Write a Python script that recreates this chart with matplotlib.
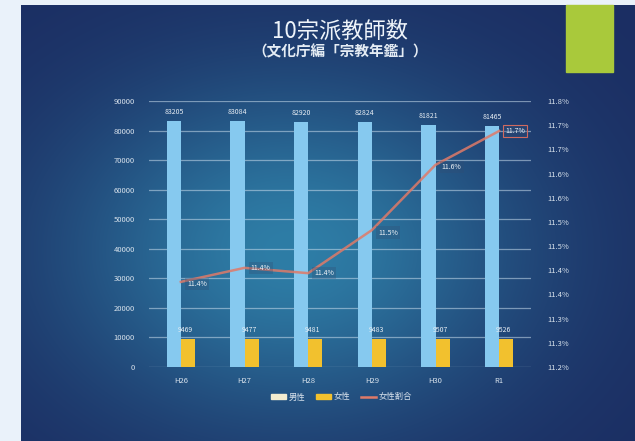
import numpy as np
import matplotlib
matplotlib.use("Agg")
import matplotlib.pyplot as plt
from matplotlib.lines import Line2D
from matplotlib.patches import Patch, Rectangle

plt.rcParams['font.family'] = ['Noto Sans CJK JP', 'DejaVu Sans']

# 10宗派 教師数（文化庁編「宗教年鑑」）
years = ['H26', 'H27', 'H28', 'H29', 'H30', 'R1']
male = [83205, 83084, 82920, 82824, 81821, 81465]
female = [9469, 9477, 9481, 9483, 9507, 9526]
female_ratio = [11.376, 11.405, 11.394, 11.483, 11.618, 11.688]  # %

left_ticks = np.arange(0, 90001, 10000)
right_ticks = np.arange(11.20, 11.751, 0.05)

W, H = 635, 441
fig = plt.figure(figsize=(W / 100, H / 100), dpi=100)

# slide background: navy with a soft teal glow
bg = fig.add_axes([0, 0, 1, 1], zorder=-5)
yy, xx = np.mgrid[0:H, 0:W]
glow = np.exp(-(((xx - 290) / 230.0) ** 2 + ((yy - 250) / 170.0) ** 2))
dark = np.array([0x1b, 0x2d, 0x62]) / 255
light = np.array([0x2e, 0x7d, 0xa6]) / 255
img = dark[None, None, :] * (1 - glow[..., None]) + light[None, None, :] * glow[..., None]
img[:5, :, :] = np.array([0xea, 0xf2, 0xfa]) / 255
img[:, :21, :] = np.array([0xea, 0xf2, 0xfa]) / 255
bg.imshow(img, aspect='auto', extent=(0, W, H, 0))
bg.add_patch(Rectangle((566, 5), 47, 67, color='#a9c93b'))
bg.set_xlim(0, W)
bg.set_ylim(H, 0)
bg.axis('off')

fig.text(0.535, 0.930, '10宗派教師数', color='#eef4fa', fontsize=16,
         ha='center', va='center')
fig.text(0.535, 0.884, '（文化庁編「宗教年鑑」）', color='#e4ecf4', fontsize=10.5,
         ha='center', va='center', fontweight='bold')

ax = fig.add_axes([149 / W, 1 - 367 / H, 382 / W, 266 / H])
ax.set_facecolor('none')
x = np.arange(len(years))
bw = 0.22

bars_m = ax.bar(x - bw / 2, male, bw, color='#86c9ef', zorder=3)
bars_f = ax.bar(x + bw / 2, female, bw, color='#f2c12e', zorder=3)

for xi, v in zip(x, male):
    ax.text(xi - bw / 2, v + 1800, str(v), color='#e8eef4', fontsize=5,
            ha='center', va='bottom', zorder=5)
for xi, v in zip(x, female):
    ax.text(xi + bw / 2 - 0.04, v + 1800, str(v), color='#e8eef4', fontsize=5,
            ha='center', va='bottom', zorder=5)

ax.set_xlim(-0.5, len(years) - 0.5)
ax.set_ylim(0, 90000)
ax.set_yticks(left_ticks)
ax.set_yticklabels([str(t) for t in left_ticks])
ax.set_xticks(x)
ax.set_xticklabels(years)
ax.grid(axis='y', color='#c8dcec', linewidth=0.9, alpha=0.55, zorder=1)
ax.tick_params(axis='both', length=0, labelsize=5.5, colors='#d8e2ec')
ax.tick_params(axis='y', pad=10)
ax.tick_params(axis='x', pad=7)
for s in ax.spines.values():
    s.set_visible(False)

ax2 = ax.twinx()
ax2.set_position(ax.get_position())
ax2.plot(x, female_ratio, color='#e07a68', linewidth=1.8, alpha=0.85, zorder=6)
ax2.set_ylim(11.20, 11.75)
ax2.set_yticks(right_ticks)
ax2.set_yticklabels(['%.1f%%' % (np.floor(t * 10 + 0.5 + 1e-9) / 10) for t in right_ticks])
ax2.tick_params(axis='y', length=0, labelsize=5.5, colors='#d8e2ec', pad=12)
for s in ax2.spines.values():
    s.set_visible(False)

label_dy = [-0.005, 0.0, 0.0, -0.005, -0.004, 0.0]
for xi, v, dy in zip(x, female_ratio, label_dy):
    edge = '#d06a60' if xi == len(years) - 1 else (0, 0, 0, 0)
    ax2.text(xi + 0.1, v + dy, '%.1f%%' % v, color='#f0f4f8', fontsize=5,
             ha='left', va='center', zorder=7,
             bbox=dict(boxstyle='square,pad=0.3', fc=(0.2, 0.3, 0.45, 0.3),
                       ec=edge, lw=0.8))

handles = [Patch(color='#f3ecd0', label='男性'),
           Patch(color='#f2c12e', label='女性'),
           Line2D([0], [0], color='#e07a68', linewidth=1.8, label='女性割合')]
fig.legend(handles=handles, loc='center', bbox_to_anchor=(0.538, 1 - 397 / H),
           ncol=3, frameon=False, fontsize=6, labelcolor='#d8e2ec',
           handlelength=1.8, handleheight=0.6, columnspacing=1.3, handletextpad=0.3)

fig.savefig('out.png', dpi=100)
